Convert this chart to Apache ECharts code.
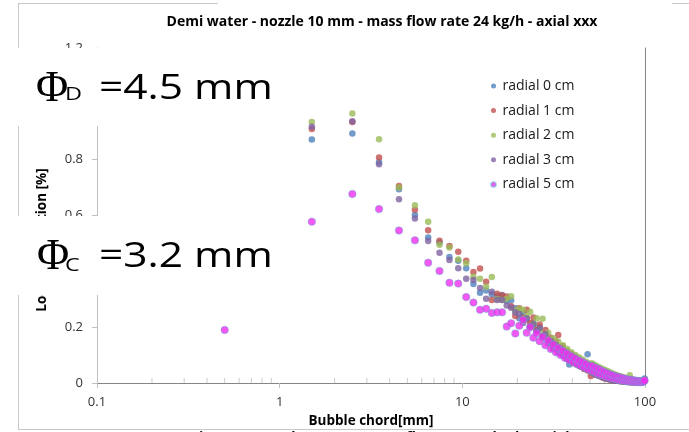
<!DOCTYPE html>
<html>
<head>
<meta charset="utf-8">
<script src="https://cdn.jsdelivr.net/npm/echarts@6/dist/echarts.min.js"></script>
<style>
html,body{margin:0;padding:0;background:#fff;}
#chart{width:689px;height:432px;}
</style>
</head>
<body>
<div id="chart"></div>
<script>
// ---- data ----
const chartTitle = 'Demi water - nozzle 10 mm - mass flow rate 24 kg/h - axial xxx';
const xName = 'Bubble chord[mm]';
const yName = 'Local distribution [%]';
const seriesNames = ['radial 0 cm', 'radial 1 cm', 'radial 2 cm', 'radial 3 cm', 'radial 5 cm'];
const chordBins = [0.5,1.5,2.5,3.5,4.5,5.5,6.5,7.5,8.5,9.5,
 10.5,11.5,12.5,13.5,14.5,15.5,16.5,17.5,18.5,19.5,
 20.5,21.5,22.5,23.5,24.5,25.5,26.5,27.5,28.5,29.5,
 30.5,31.5,32.5,33.5,34.5,35.5,36.5,37.5,38.5,39.5,
 40.5,41.5,42.5,43.5,44.5,45.5,46.5,47.5,48.5,49.5,
 50.5,51.5,52.5,53.5,54.5,55.5,56.5,57.5,58.5,59.5,
 60.5,61.5,62.5,63.5,64.5,65.5,66.5,67.5,68.5,69.5,
 70.5,71.5,72.5,73.5,74.5,75.5,76.5,77.5,78.5,79.5,
 80.5,81.5,82.5,83.5,84.5,85.5,86.5,87.5,88.5,89.5,
 90.5,91.5,92.5,93.5,94.5,95.5,96.5,97.5,98.5,99.5];
const radial0 = [0.33,0.872,0.894,0.791,0.694,0.602,0.521,0.503,0.451,0.438,
 0.411,0.355,0.323,0.331,0.318,0.312,0.315,0.295,0.296,0.268,
 0.232,0.25,0.228,0.205,0.214,0.19,0.2,0.168,0.175,0.15,
 0.155,0.128,0.142,0.118,0.13,0.1,0.112,0.088,0.066,0.1,
 0.078,0.095,0.07,0.085,0.06,0.078,0.052,0.07,0.103,0.048,
 0.068,0.04,0.06,0.035,0.055,0.03,0.05,0.026,0.045,0.022,
 0.042,0.018,0.036,0.015,0.033,0.012,0.03,0.01,0.027,0.008,
 0.025,0.007,0.022,0.006,0.02,0.005,0.018,0.005,0.016,0.004,
 0.015,0.004,0.013,0.003,0.012,0.003,0.011,0.003,0.01,0.002,
 0.009,0.002,0.008,0.002,0.008,0.002,0.007,0.004,0.01,0.016];
const radial1 = [0.40,0.91,0.935,0.808,0.706,0.621,0.547,0.51,0.491,0.47,
 0.438,0.398,0.41,0.363,0.297,0.32,0.313,0.31,0.275,0.24,
 0.268,0.235,0.262,0.215,0.235,0.19,0.21,0.168,0.19,0.145,
 0.162,0.128,0.15,0.172,0.118,0.132,0.098,0.115,0.085,0.105,
 0.072,0.092,0.066,0.085,0.058,0.075,0.05,0.068,0.045,0.062,
 0.025,0.065,0.038,0.058,0.03,0.053,0.026,0.048,0.02,0.044,
 0.016,0.04,0.014,0.036,0.012,0.032,0.01,0.029,0.009,0.026,
 0.008,0.023,0.007,0.021,0.006,0.019,0.005,0.017,0.005,0.015,
 0.004,0.014,0.004,0.012,0.003,0.011,0.003,0.01,0.003,0.009,
 0.003,0.008,0.002,0.008,0.002,0.007,0.002,0.006,0.008,0.012];
const radial2 = [0.45,0.935,0.965,0.873,0.70,0.637,0.578,0.495,0.485,0.442,
 0.429,0.381,0.373,0.345,0.38,0.30,0.297,0.302,0.311,0.26,
 0.265,0.262,0.24,0.255,0.21,0.232,0.19,0.23,0.17,0.18,
 0.14,0.16,0.125,0.148,0.112,0.135,0.104,0.122,0.095,0.11,
 0.085,0.1,0.078,0.092,0.07,0.084,0.062,0.076,0.057,0.07,
 0.05,0.07,0.044,0.064,0.038,0.058,0.034,0.053,0.03,0.048,
 0.026,0.044,0.022,0.04,0.019,0.036,0.017,0.032,0.015,0.029,
 0.013,0.026,0.012,0.024,0.01,0.021,0.009,0.019,0.008,0.017,
 0.007,0.015,0.028,0.014,0.006,0.012,0.005,0.011,0.005,0.01,
 0.004,0.009,0.004,0.008,0.003,0.007,0.003,0.007,0.008,0.011];
const radial3 = [0.42,0.918,0.938,0.784,0.658,0.589,0.509,0.467,0.441,0.411,
 0.373,0.369,0.34,0.302,0.327,0.297,0.297,0.278,0.27,0.253,
 0.247,0.215,0.232,0.2,0.21,0.185,0.195,0.16,0.175,0.142,
 0.15,0.122,0.135,0.108,0.124,0.098,0.11,0.086,0.1,0.078,
 0.09,0.07,0.082,0.062,0.075,0.056,0.068,0.05,0.062,0.045,
 0.06,0.036,0.055,0.03,0.05,0.026,0.045,0.022,0.041,0.019,
 0.037,0.016,0.033,0.014,0.03,0.012,0.027,0.01,0.024,0.009,
 0.022,0.008,0.02,0.007,0.018,0.006,0.016,0.005,0.014,0.005,
 0.013,0.004,0.012,0.004,0.01,0.003,0.009,0.003,0.008,0.002,
 0.008,0.002,0.007,0.002,0.006,0.002,0.005,0.003,0.006,0.008];
const radial5 = [0.19,0.578,0.677,0.623,0.546,0.511,0.431,0.401,0.359,0.356,
 0.308,0.288,0.262,0.266,0.251,0.253,0.253,0.202,0.214,0.177,
 0.205,0.226,0.18,0.2,0.162,0.178,0.15,0.165,0.135,0.152,
 0.122,0.138,0.11,0.125,0.1,0.115,0.09,0.105,0.082,0.096,
 0.075,0.088,0.068,0.08,0.062,0.074,0.056,0.068,0.05,0.062,
 0.046,0.06,0.041,0.055,0.036,0.05,0.032,0.045,0.028,0.04,
 0.025,0.036,0.022,0.032,0.019,0.029,0.017,0.026,0.015,0.023,
 0.013,0.021,0.011,0.019,0.01,0.017,0.009,0.015,0.008,0.013,
 0.007,0.012,0.006,0.011,0.005,0.01,0.005,0.009,0.004,0.008,
 0.004,0.007,0.003,0.006,0.003,0.006,0.003,0.005,0.006,0.009];
const minorTickValues = [0.2,0.3,0.4,0.5,0.6,0.7,0.8,0.9,2,3,4,5,6,7,8,9,20,30,40,50,60,70,80,90];
const seriesValues = [radial0, radial1, radial2, radial3, radial5];

// ---- styles ----
const colors = ['#4F81BD', '#C0504D', '#9BBB59', '#8064A2', '#F02EF0'];
const FONT = '"Open Sans", Lato, sans-serif';

const chart = echarts.init(document.getElementById('chart'), null, {renderer: 'canvas'});

const series = [{
  name: 'minor',
  type: 'scatter',
  silent: true,
  symbol: 'rect',
  symbolSize: [1, 5],
  symbolOffset: [0, -2.5],
  itemStyle: {color: '#bfbfbf'},
  data: minorTickValues.map(v => [v, 0]),
  z: 1
}];
seriesNames.forEach((name, si) => {
  const isLast = si === seriesNames.length - 1;
  series.push({
    name: name,
    type: 'scatter',
    symbol: 'circle',
    symbolSize: isLast ? 7.5 : 6.5,
    itemStyle: isLast ? {color: colors[si], borderColor: 'rgba(90,180,210,0.55)', borderWidth: 1}
                      : {color: colors[si]},
    data: chordBins.map((x, i) => [x, seriesValues[si][i]]),
    z: 2 + si
  });
});

const lineColor = '#c8c8c8';
const option = {
  animation: false,
  backgroundColor: '#ffffff',
  grid: {left: 97, right: 44, top: 48, bottom: 49, containLabel: false, outerBoundsMode: 'none'},
  legend: {
    data: seriesNames,
    orient: 'vertical',
    left: 490,
    top: 78,
    padding: 0,
    itemWidth: 8,
    itemHeight: 5,
    itemGap: 8.6,
    icon: 'circle',
    textStyle: {fontFamily: FONT, fontSize: 14, color: '#1a1a1a', lineHeight: 16}
  },
  xAxis: [{
    type: 'log',
    logBase: 10,
    min: 0.1,
    max: 100,
    name: xName,
    nameLocation: 'middle',
    nameGap: 28,
    nameTextStyle: {fontFamily: FONT, fontSize: 13.5, fontWeight: 'bold', color: '#000'},
    axisLine: {show: true, lineStyle: {color: '#bfbfbf', width: 1}},
    axisTick: {show: true, length: 5, lineStyle: {color: '#bfbfbf'}},
    axisLabel: {fontFamily: FONT, fontSize: 13, color: '#333', margin: 13},
    splitLine: {show: false},
    minorTick: {show: false},
    minorSplitLine: {show: false}
  }, {
    type: 'log',
    logBase: 10,
    min: 0.1,
    max: 100,
    position: 'top',
    axisLine: {show: true, lineStyle: {color: '#868686', width: 1}},
    axisTick: {show: false},
    axisLabel: {show: false},
    splitLine: {show: false}
  }],
  yAxis: [{
    type: 'value',
    min: 0,
    max: 1.2,
    interval: 0.2,
    axisLine: {show: true, lineStyle: {color: '#bfbfbf', width: 1}},
    axisTick: {show: true, length: 5, lineStyle: {color: '#bfbfbf'}},
    axisLabel: {fontFamily: FONT, fontSize: 13, color: '#333', margin: 14},
    splitLine: {show: false}
  }, {
    type: 'value',
    min: 0,
    max: 1.2,
    interval: 0.2,
    position: 'right',
    axisLine: {show: true, lineStyle: {color: '#868686', width: 1}},
    axisTick: {show: false},
    axisLabel: {show: false},
    splitLine: {show: false}
  }],
  series: series,
  graphic: {
    elements: [
      // outer frame
      {type: 'line', z: 10, shape: {x1: 18, y1: 3.5, x2: 218, y2: 3.5}, style: {stroke: lineColor, lineWidth: 1}},
      {type: 'line', z: 10, shape: {x1: 672, y1: 3.5, x2: 689, y2: 3.5}, style: {stroke: lineColor, lineWidth: 1}},
      {type: 'line', z: 10, shape: {x1: 18.5, y1: 3, x2: 18.5, y2: 430}, style: {stroke: lineColor, lineWidth: 1}},
      {type: 'line', z: 10, shape: {x1: 18, y1: 429.5, x2: 689, y2: 429.5}, style: {stroke: lineColor, lineWidth: 1}},
      // title
      {type: 'text', z: 10, x: 382, y: 22, style: {text: chartTitle, font: 'bold 14px ' + FONT, fill: '#000', textAlign: 'center', textVerticalAlign: 'middle'}},
      // y axis name
      {type: 'text', z: 10, x: 42, y: 240, rotation: Math.PI / 2, style: {text: yName, font: 'bold 13.5px ' + FONT, fill: '#000', textAlign: 'center', textVerticalAlign: 'middle'}},
      // next chart title peeking at the bottom
      {type: 'text', z: 9, x: 382, y: 431.5, style: {text: chartTitle, font: 'bold 14px ' + FONT, fill: '#000', textAlign: 'center', textVerticalAlign: 'top'}},
      // overlay boxes
      {type: 'rect', z: 100, shape: {x: 0, y: 48, width: 298, height: 78}, style: {fill: '#fff'}},
      {type: 'rect', z: 100, shape: {x: 0, y: 216, width: 300, height: 79}, style: {fill: '#fff'}},
      // Phi D
      {type: 'text', z: 101, x: 36, y: 89, style: {text: 'Φ', font: '44px "Liberation Serif", serif', fill: '#000', textAlign: 'left', textVerticalAlign: 'middle'}},
      {type: 'text', z: 101, x: 65, y: 95, scaleX: 1.3, style: {text: 'D', font: '18px ' + FONT, fill: '#000', textAlign: 'left', textVerticalAlign: 'middle'}},
      {type: 'text', z: 101, x: 99, y: 89.5, scaleX: 1.25, style: {text: '=4.5 mm', font: '34px ' + FONT, fill: '#000', textAlign: 'left', textVerticalAlign: 'middle'}},
      // Phi C
      {type: 'text', z: 101, x: 37, y: 257.5, style: {text: 'Φ', font: '44px "Liberation Serif", serif', fill: '#000', textAlign: 'left', textVerticalAlign: 'middle'}},
      {type: 'text', z: 101, x: 65, y: 265.5, scaleX: 1.3, style: {text: 'C', font: '18px ' + FONT, fill: '#000', textAlign: 'left', textVerticalAlign: 'middle'}},
      {type: 'text', z: 101, x: 99, y: 257.5, scaleX: 1.25, style: {text: '=3.2 mm', font: '34px ' + FONT, fill: '#000', textAlign: 'left', textVerticalAlign: 'middle'}}
    ]
  }
};
chart.setOption(option);
</script>
</body>
</html>
